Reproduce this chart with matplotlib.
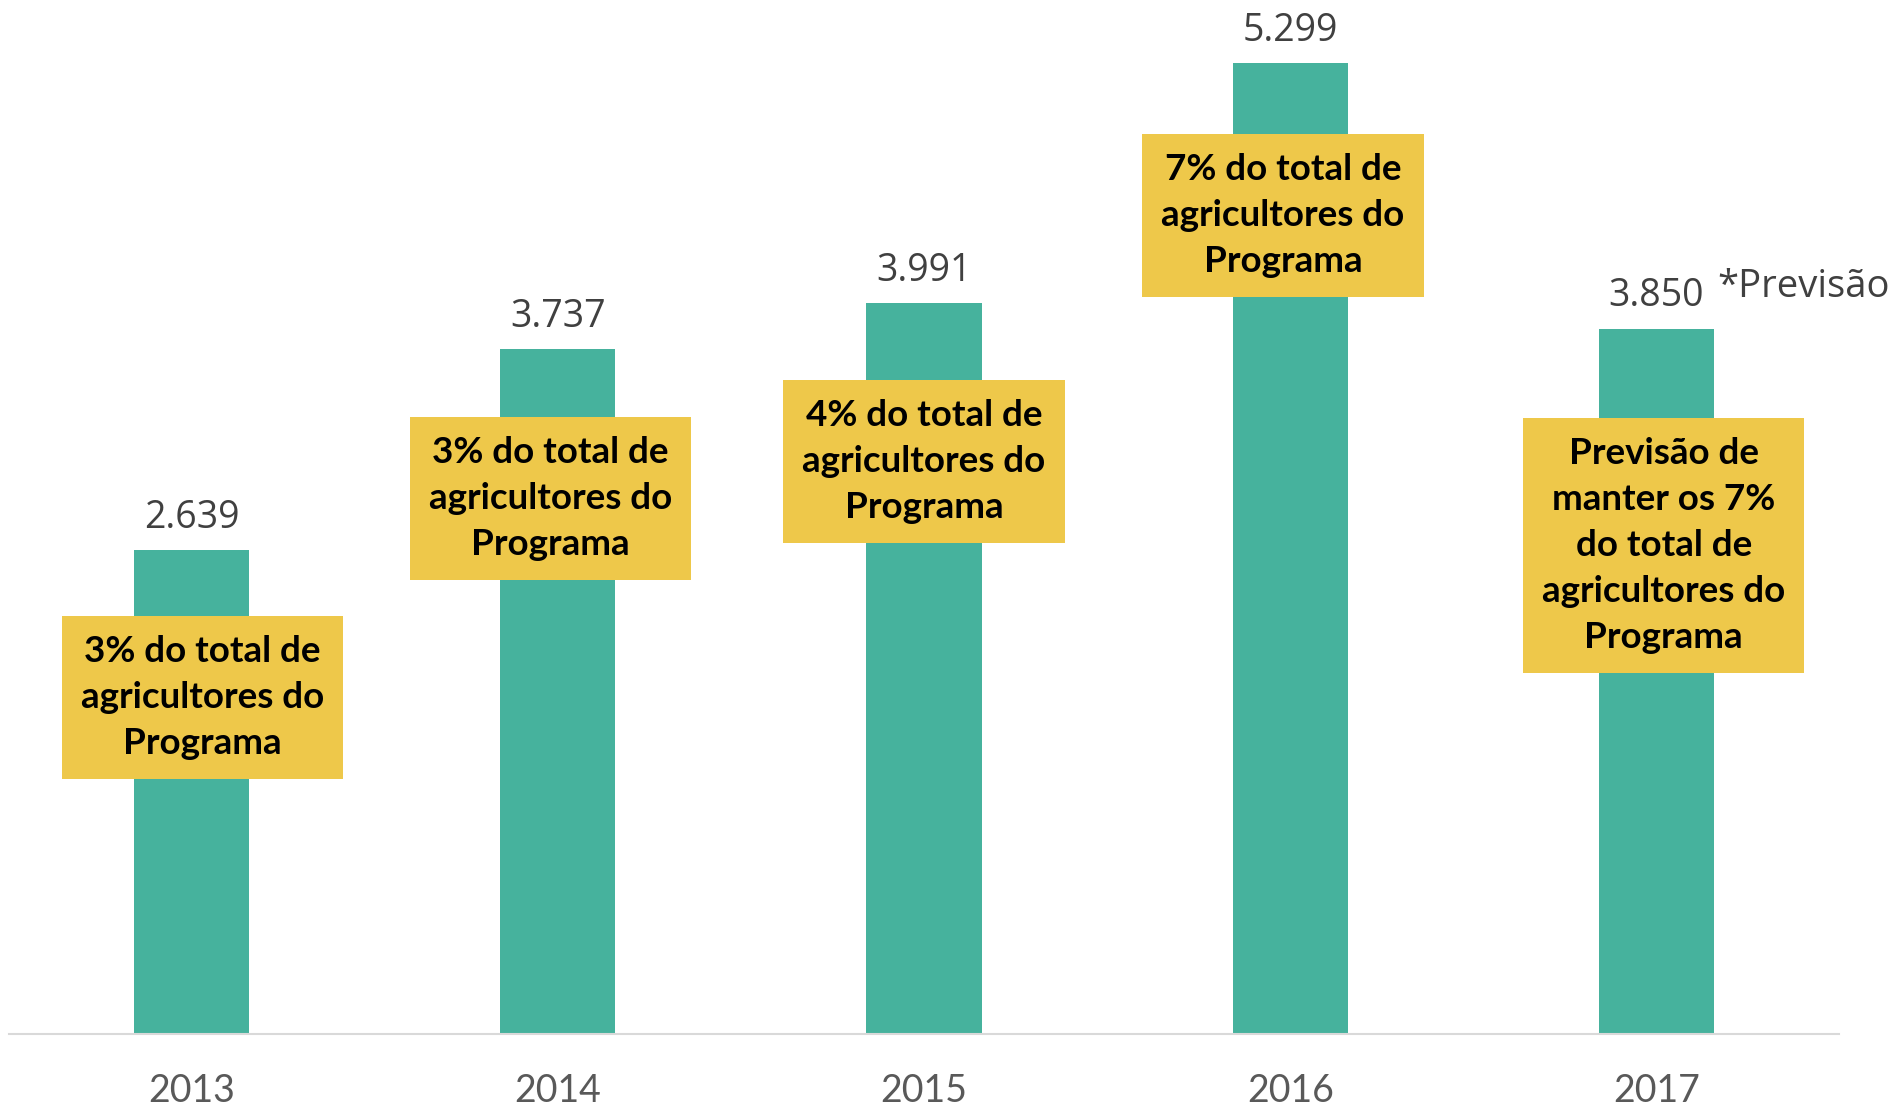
import matplotlib.pyplot as plt

# data
years = ['2013', '2014', '2015', '2016', '2017']
agricultores = [2639, 3737, 3991, 5299, 3850]
value_labels = ['2.639', '3.737', '3.991', '5.299', '3.850']
notes = [
    '3% do total de\nagricultores do\nPrograma',
    '3% do total de\nagricultores do\nPrograma',
    '4% do total de\nagricultores do\nPrograma',
    '7% do total de\nagricultores do\nPrograma',
    'Previsão de\nmanter os 7%\ndo total de\nagricultores do\nPrograma',
]
# where each yellow note sits (x shift from bar, y in data units)
note_dx = [0.03, -0.02, 0.0, -0.02, 0.02]
note_y = [1835, 2924, 3122, 4469, 2667]

bar_color = '#46B29D'
note_color = '#EEC84A'

fig = plt.figure(figsize=(18.95, 11.05), dpi=100)
ax = fig.add_axes([0.0045, 0.0646, 0.9662, 0.9354])

x = list(range(len(years)))
ax.bar(x, agricultores, width=0.315, color=bar_color, zorder=2)
ax.set_xlim(-0.5, len(years) - 0.5)
ax.set_ylim(0, 5644)

for i, v in enumerate(agricultores):
    ax.annotate(value_labels[i], (i, v), xytext=(0, 16), textcoords='offset points',
                ha='center', va='baseline', fontsize=27, color='#404040',
                family='Open Sans')
    ax.text(i + note_dx[i], note_y[i], notes[i], ha='center', va='center',
            multialignment='center', fontsize=26.5, fontweight='bold', color='black',
            family='Lato', linespacing=1.48, zorder=3,
            bbox=dict(boxstyle='square,pad=0.52', facecolor=note_color, edgecolor='none'))

ax.annotate('*Previsão', (4, agricultores[4]), xytext=(44, 23), textcoords='offset points',
            ha='left', va='baseline', fontsize=27.5, color='#404040', family='Open Sans',
            annotation_clip=False)

ax.set_xticks(x)
ax.set_xticklabels(years, fontsize=27, color='#595959', family='Lato')
ax.tick_params(axis='x', length=0, pad=28)
ax.set_yticks([])
for s in ['top', 'right', 'left']:
    ax.spines[s].set_visible(False)
ax.spines['bottom'].set_color('#D9D9D9')
ax.spines['bottom'].set_linewidth(1.5)

fig.savefig('out.png', dpi=100)
